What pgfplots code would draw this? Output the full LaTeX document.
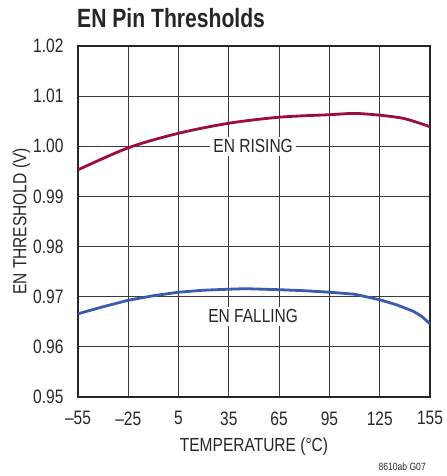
\documentclass[border=0pt]{standalone}
\usepackage{fontspec}
\setmainfont[FakeStretch=0.82]{Liberation Sans}
\newfontfamily\tickfont[FakeStretch=0.80]{Liberation Sans}
\newfontfamily\titlefont[FakeStretch=0.80]{Liberation Sans}
\usepackage{pgfplots}
\pgfplotsset{compat=1.18}
\usetikzlibrary{calc}
\definecolor{rise}{HTML}{9A0D3C}
\definecolor{fall}{HTML}{3A5AAE}
\definecolor{gridc}{HTML}{3A3A3A}
\begin{document}
\begin{tikzpicture}
\begin{axis}[
  scale only axis,
  width=352bp, height=351bp,
  xmin=-55, xmax=155, ymin=0.95, ymax=1.02,
  xtick={-55,-25,...,155},
  xticklabels={–55,–25,5,35,65,95,125,155},
  ytick={0.95,0.96,...,1.02},
  yticklabel style={/pgf/number format/fixed,/pgf/number format/fixed zerofill,/pgf/number format/precision=2, xshift=-11bp},
  /pgf/number format/assume math mode=true,
  tick label style={font=\tickfont\fontsize{19.5}{21}\selectfont, color=black!85},
  label style={font=\fontsize{19}{21}\selectfont, color=black!85},
  xlabel={TEMPERATURE (°C)},
  ylabel={EN THRESHOLD (V)},
  xlabel style={yshift=-6bp},
  ylabel style={yshift=-4bp},
  xticklabel style={yshift=-11bp},
  major tick length=0pt,
  grid=major,
  major grid style={gridc, line width=0.9bp},
  axis line style={black!85, line width=1.4bp},
  clip=true,
]
\addplot[rise, line width=2.8bp, smooth] coordinates {
(-55,0.9953) (-25,0.9997) (5,1.0026) (35,1.0046) (65,1.0058) (95,1.0063)
(110,1.00655) (125,1.0062) (140,1.0055) (155,1.0039)};
\addplot[fall, line width=2.8bp] coordinates {
(-55,0.9666) (-40,0.9680) (-25,0.9693) (-10,0.9702) (5,0.9709) (20,0.9713) (35,0.9715) (45,0.9716)
(65,0.9714) (80,0.9712) (95,0.9709) (110,0.9705) (125,0.9694) (135,0.9684) (145,0.9671) (150,0.9661) (155,0.9646)};
\node[fill=white, inner sep=3bp, font=\fontsize{19}{21}\selectfont, text=black!85] at (axis cs:49.5,1.0000) {EN RISING};
\node[fill=white, inner sep=3bp, font=\fontsize{19}{21}\selectfont, text=black!85] at (axis cs:49.5,0.9661) {EN FALLING};
\end{axis}
\path (current axis.south west) ++(-78bp,-79bp) rectangle ++(447bp,476bp);
\node[anchor=base west, inner sep=0pt, font=\titlefont\bfseries\fontsize{26.5}{30}\selectfont, text=black!85]
  at ($(current axis.north west)+(-1bp,19bp)$) {EN Pin Thresholds};
\node[anchor=base east, inner sep=0pt, font=\fontsize{10.5}{12}\selectfont, text=black!85]
  at ($(current axis.south east)+(-4bp,-73bp)$) {8610ab G07};
\end{tikzpicture}
\end{document}
